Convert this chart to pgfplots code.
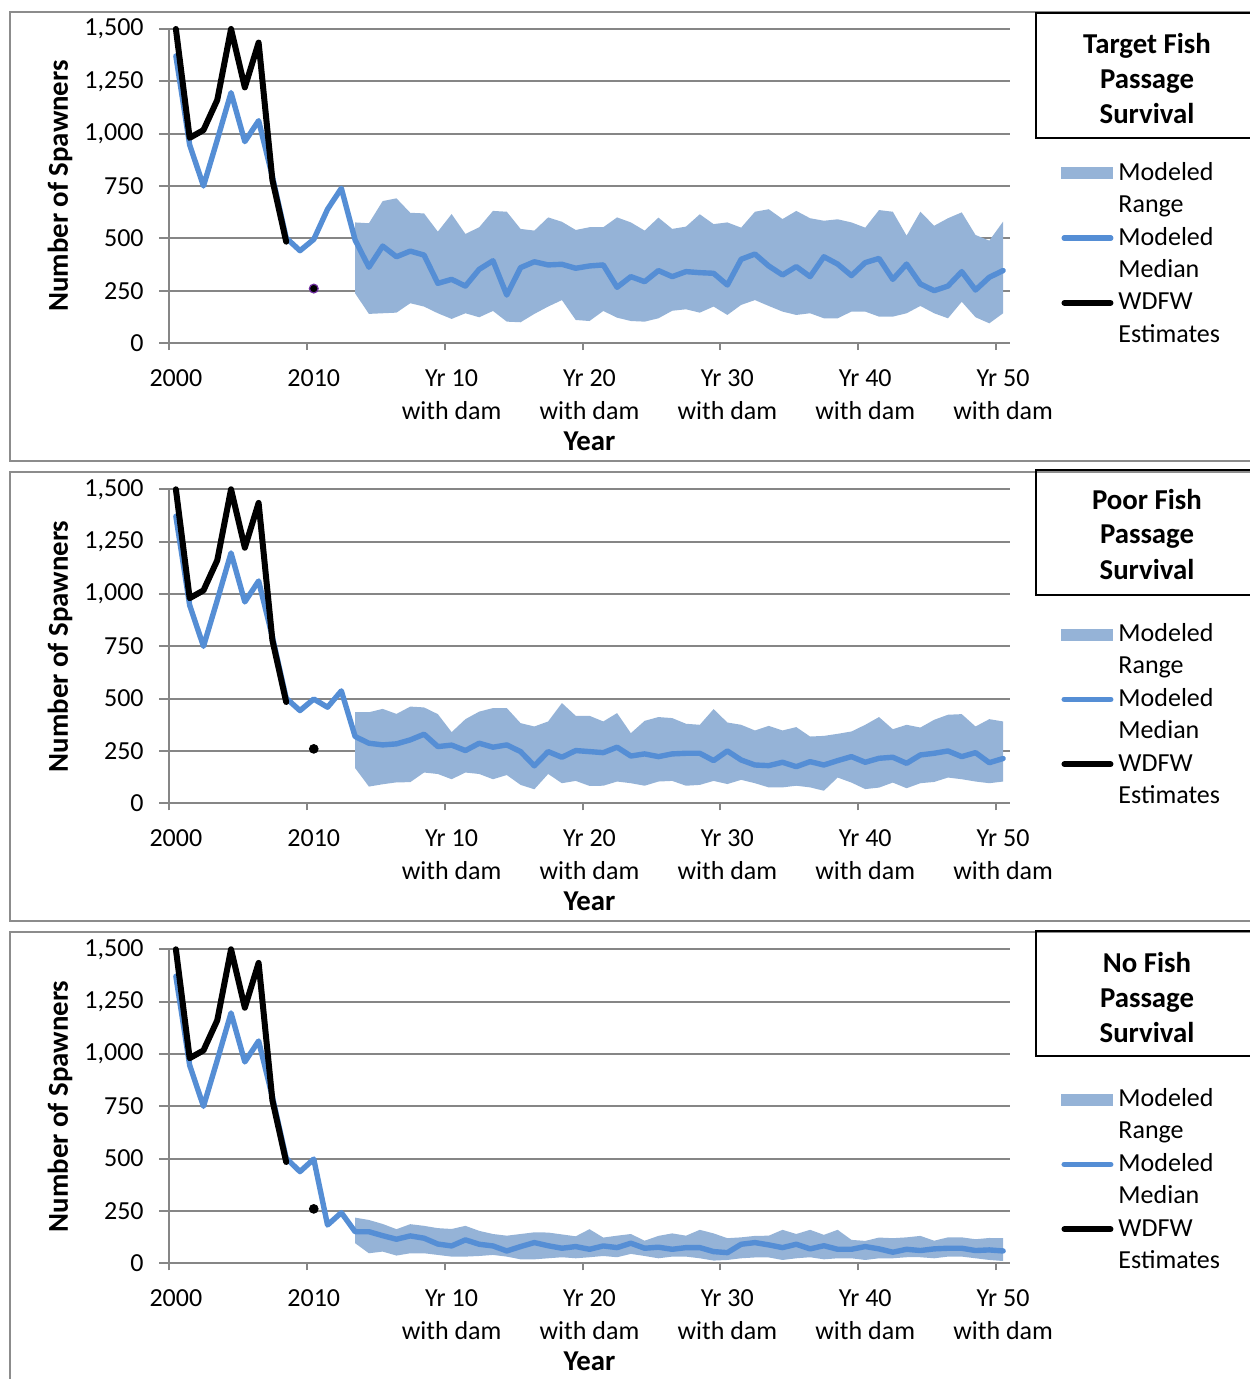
\documentclass[border=0pt]{standalone}
\usepackage{fontspec}
\setmainfont{Carlito}
\usepackage{pgfplots}
\pgfplotsset{compat=1.18}
\usepackage{pgfplotstable}
\usepgfplotslibrary{fillbetween}

\definecolor{rangec}{RGB}{149,179,215}
\definecolor{medc}{RGB}{85,142,213}
\definecolor{gridc}{RGB}{134,134,134}
\definecolor{framec}{RGB}{140,140,140}
\definecolor{dotedge}{RGB}{112,48,160}

% WDFW spawner estimates (index 0 = 2000)
\pgfplotstableread{
i v
0 1500
1 980
2 1017
3 1161
4 1500
5 1221
6 1435
7 779
8 484
}\wdfw

% 2010 point estimate
\pgfplotstableread{
i v
10 260
}\pointten

% Modeled median, target passage survival
\pgfplotstableread{
i v
0 1371
1 946
2 750
3 970
4 1196
5 962
6 1062
7 795
8 502
9 441
10 495
11 639
12 739
13 492
14 362
15 463
16 412
17 439
18 420
19 285
20 304
21 272
22 352
23 393
24 229
25 360
26 388
27 373
28 376
29 357
30 368
31 373
32 266
33 317
34 293
35 346
36 317
37 341
38 336
39 333
40 277
41 400
42 425
43 368
44 325
45 365
46 317
47 412
48 377
49 322
50 384
51 404
52 304
53 377
54 282
55 250
56 272
57 341
58 253
59 314
60 346
}\medA

% Modeled range, target passage survival
\pgfplotstableread{
i lo hi
13 237 576
14 139 572
15 142 678
16 145 691
17 190 622
18 174 619
19 142 532
20 115 616
21 142 521
22 123 553
23 153 631
24 102 627
25 99 545
26 139 537
27 174 600
28 205 579
29 110 540
30 105 553
31 153 553
32 121 600
33 105 576
34 102 537
35 118 599
36 154 545
37 161 556
38 145 615
39 174 568
40 134 576
41 182 551
42 205 627
43 177 639
44 150 592
45 134 631
46 142 596
47 118 584
48 118 591
49 150 576
50 150 551
51 126 635
52 126 627
53 142 513
54 177 627
55 142 560
56 118 596
57 197 624
58 123 516
59 94 489
60 142 580
}\bandA

% Modeled median, poor passage survival
\pgfplotstableread{
i v
0 1371
1 946
2 750
3 970
4 1196
5 962
6 1062
7 795
8 502
9 443
10 498
11 459
12 537
13 319
14 287
15 279
16 284
17 303
18 330
19 271
20 278
21 252
22 287
23 268
24 279
25 247
26 179
27 247
28 220
29 252
30 247
31 242
32 268
33 226
34 236
35 223
36 236
37 239
38 239
39 204
40 250
41 207
42 183
43 180
44 196
45 175
46 199
47 183
48 204
49 223
50 196
51 215
52 220
53 191
54 231
55 239
56 250
57 223
58 242
59 194
60 214
}\medB

% Modeled range, poor passage survival
\pgfplotstableread{
i lo hi
13 168 435
14 80 435
15 91 451
16 100 427
17 101 462
18 147 458
19 140 426
20 115 340
21 147 402
22 140 438
23 115 455
24 135 455
25 88 383
26 67 367
27 140 391
28 96 479
29 107 418
30 83 418
31 84 391
32 104 431
33 96 335
34 84 394
35 104 412
36 107 407
37 84 380
38 88 375
39 107 450
40 92 386
41 112 375
42 96 348
43 76 370
44 76 348
45 84 364
46 76 319
47 60 322
48 123 332
49 99 343
50 68 375
51 75 412
52 99 354
53 72 375
54 96 362
55 102 399
56 123 423
57 115 426
58 104 367
59 96 402
60 104 391
}\bandB

% Modeled median, no passage survival
\pgfplotstableread{
i v
0 1371
1 946
2 750
3 970
4 1196
5 962
6 1062
7 795
8 502
9 438
10 498
11 183
12 242
13 151
14 151
15 132
16 115
17 131
18 120
19 92
20 83
21 112
22 91
23 83
24 59
25 80
26 99
27 84
28 72
29 80
30 67
31 83
32 75
33 96
34 72
35 77
36 67
37 75
38 75
39 56
40 51
41 91
42 99
43 88
44 75
45 91
46 69
47 84
48 67
49 67
50 80
51 69
52 53
53 67
54 61
55 69
56 72
57 72
58 61
59 64
60 59
}\medC

% Modeled range, no passage survival
\pgfplotstableread{
i lo hi
13 96 218
14 48 207
15 56 188
16 37 163
17 48 187
18 48 179
19 40 168
20 32 164
21 32 179
22 35 155
23 40 140
24 32 132
25 19 140
26 19 148
27 24 147
28 29 138
29 24 129
30 29 163
31 35 123
32 29 132
33 45 140
34 35 108
35 24 131
36 32 143
37 32 132
38 24 160
39 13 143
40 16 120
41 24 124
42 28 131
43 28 132
44 16 160
45 24 140
46 29 160
47 19 136
48 24 160
49 24 112
50 16 107
51 24 123
52 24 120
53 29 124
54 29 131
55 24 108
56 32 124
57 32 124
58 24 115
59 16 121
60 11 120
}\bandC

\pgfplotsset{
  spawnaxis/.style={
    scale only axis, width=420.5pt, height=157pt, anchor=south west,
    xmin=-0.5, xmax=60.5, ymin=0, ymax=1500, clip=false,
    axis x line=bottom, axis y line=left,
    axis line style={-, gridc, line width=1pt},
    ytick={0,250,...,1500}, ymajorgrids,
    grid style={gridc, line width=0.9pt},
    xtick={0,10,...,60},
    xticklabels={2000,2010,{Yr 10\\with dam},{Yr 20\\with dam},{Yr 30\\with dam},{Yr 40\\with dam},{Yr 50\\with dam}},
    minor xtick={-0.5,9.5,...,59.5},
    tick align=outside, major tick length=5pt, minor tick length=3.5pt,
    tick style={gridc, line width=1pt},
    major x tick style={draw=none},
    tick label style={font=\fontsize{13}{16.5}\selectfont},
    xticklabel style={align=center, anchor=north, inner sep=0pt, yshift=-7.9pt},
    yticklabel style={anchor=east, inner sep=0pt, xshift=-7.5pt},
    /pgf/number format/1000 sep={,},
    /pgf/number format/assume math mode=true,
    xlabel={Year}, ylabel={Number of Spawners},
    label style={font=\bfseries\fontsize{14.4}{17}\selectfont},
    xlabel style={at={(axis description cs:0.5,-0.312)}, anchor=center},
    ylabel style={at={(axis description cs:-0.1296,0.5)}, anchor=center},
    legend cell align=left,
    legend style={anchor=north west, draw=none, fill=none,
      font=\fontsize{13}{16.2}\selectfont, row sep=0pt, column sep=2.5pt,
      nodes={inner sep=0pt, text height=11.6pt, text depth=4.6pt}},
  },
  rangeband/.style={fill=rangec, draw=none,
    legend image code/.code={\fill[rangec] (0pt,-3pt) rectangle (26pt,3pt);}},
  medline/.style={medc, line width=2.7pt, line join=round, line cap=round,
    legend image code/.code={\draw[medc, line width=2.7pt, line cap=round] (1.35pt,0pt) -- (24.65pt,0pt);}},
  wdfwline/.style={black, line width=3pt, line join=round, line cap=round,
    legend image code/.code={\draw[black, line width=3pt, line cap=round] (1.5pt,0pt) -- (24.5pt,0pt);}},
}

\begin{document}
\begin{tikzpicture}

% panel frames
\draw[framec, line width=1pt] (5pt,-5.85pt) rectangle (626pt,-230.35pt);
\draw[framec, line width=1pt] (5pt,-235.85pt) rectangle (626pt,-460.35pt);
\draw[framec, line width=1pt] (5pt,-465.85pt) rectangle (626pt,-692pt);

% ---- Target fish passage survival ----
\begin{axis}[spawnaxis, at={(84.5pt,-171.5pt)},
  legend style={at={(axis description cs:1.0536,0.606)}}]
\addplot[draw=none, name path=hiA, forget plot] table[x=i,y=hi]{\bandA};
\addplot[draw=none, name path=loA, forget plot] table[x=i,y=lo]{\bandA};
\addplot[rangeband] fill between[of=hiA and loA];
\addlegendentry{Modeled}
\addlegendimage{empty legend}
\addlegendentry{Range}
\addplot[medline] table[x=i,y=v]{\medA};
\addlegendentry{Modeled}
\addlegendimage{empty legend}
\addlegendentry{Median}
\addplot[wdfwline] table[x=i,y=v]{\wdfw};
\addlegendentry{WDFW}
\addlegendimage{empty legend}
\addlegendentry{Estimates}
\addplot[only marks, mark=*, mark size=2.2pt, mark options={fill=black, draw=dotedge, line width=0.6pt}, forget plot] table[x=i,y=v]{\pointten};
\end{axis}

% ---- Poor fish passage survival ----
\begin{axis}[spawnaxis, at={(84.5pt,-401.65pt)},
  legend style={at={(axis description cs:1.0536,0.603)}}]
\addplot[draw=none, name path=hiB, forget plot] table[x=i,y=hi]{\bandB};
\addplot[draw=none, name path=loB, forget plot] table[x=i,y=lo]{\bandB};
\addplot[rangeband] fill between[of=hiB and loB];
\addlegendentry{Modeled}
\addlegendimage{empty legend}
\addlegendentry{Range}
\addplot[medline] table[x=i,y=v]{\medB};
\addlegendentry{Modeled}
\addlegendimage{empty legend}
\addlegendentry{Median}
\addplot[wdfwline] table[x=i,y=v]{\wdfw};
\addlegendentry{WDFW}
\addlegendimage{empty legend}
\addlegendentry{Estimates}
\addplot[only marks, mark=*, mark size=2.2pt, mark options={fill=black, draw=black}, forget plot] table[x=i,y=v]{\pointten};
\end{axis}

% ---- No fish passage survival ----
\begin{axis}[spawnaxis, at={(84.5pt,-631.65pt)},
  legend style={at={(axis description cs:1.0536,0.587)}}]
\addplot[draw=none, name path=hiC, forget plot] table[x=i,y=hi]{\bandC};
\addplot[draw=none, name path=loC, forget plot] table[x=i,y=lo]{\bandC};
\addplot[rangeband] fill between[of=hiC and loC];
\addlegendentry{Modeled}
\addlegendimage{empty legend}
\addlegendentry{Range}
\addplot[medline] table[x=i,y=v]{\medC};
\addlegendentry{Modeled}
\addlegendimage{empty legend}
\addlegendentry{Median}
\addplot[wdfwline] table[x=i,y=v]{\wdfw};
\addlegendentry{WDFW}
\addlegendimage{empty legend}
\addlegendentry{Estimates}
\addplot[only marks, mark=*, mark size=2.2pt, mark options={fill=black, draw=black}, forget plot] table[x=i,y=v]{\pointten};
\end{axis}

% scenario title boxes
\begin{scope}[every node/.style={align=center, font=\bfseries\fontsize{14.4}{17.5}\selectfont}]
\draw[black, line width=1pt] (517.85pt,-6.65pt) rectangle (626pt,-69.15pt);
\node at (573.5pt,-39.5pt) {Target Fish\\Passage\\Survival};
\draw[black, line width=1pt] (517.85pt,-235pt) rectangle (626pt,-297.5pt);
\node at (573.5pt,-267pt) {Poor Fish\\Passage\\Survival};
\draw[black, line width=1pt] (517.85pt,-465.5pt) rectangle (626pt,-528pt);
\node at (573.5pt,-498.5pt) {No Fish\\Passage\\Survival};
\end{scope}

\pgfresetboundingbox
\path[use as bounding box] (0pt,0pt) rectangle (624.5pt,-689.5pt);
\end{tikzpicture}
\end{document}
